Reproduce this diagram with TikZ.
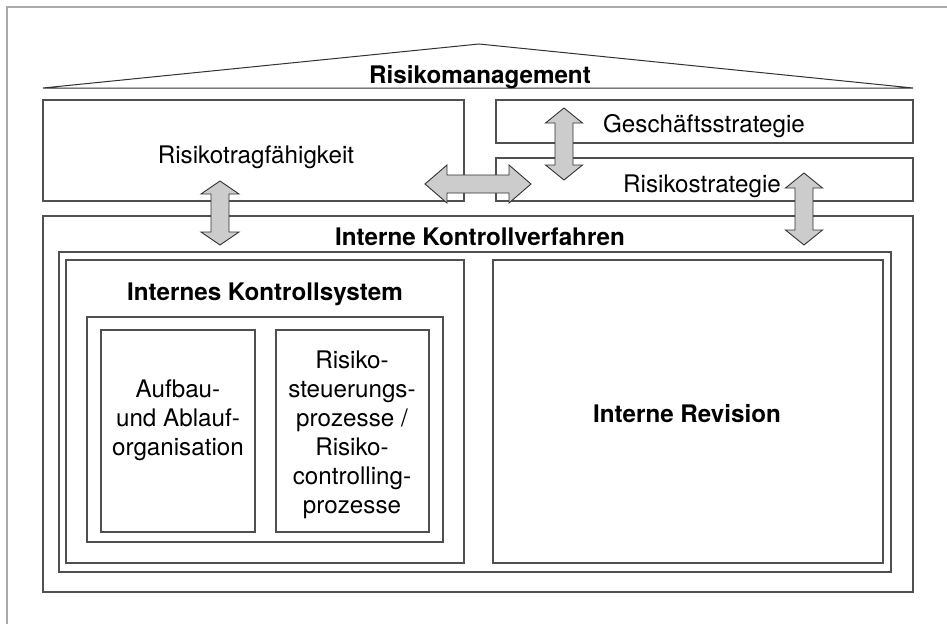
\documentclass[tikz,border=0pt]{standalone}
\usepackage{fontspec}
\setmainfont{TeX Gyre Heros}
\usetikzlibrary{calc,fit}

\definecolor{boxline}{RGB}{80,80,80}
\definecolor{frameline}{RGB}{170,170,170}
\definecolor{arrowline}{RGB}{50,50,50}
\definecolor{arrowfill}{RGB}{204,204,204}

% vertical double block arrow: #1 upper tip, #2 lower tip, #3 head length, #4 head half-width
\newcommand{\vdarrow}[4]{%
  \draw[blockarrow] let \p1=(#1), \p2=(#2) in
    (\x1,\y1) -- (\x1+#4,\y1-#3) -- (\x1+9pt,\y1-#3) -- (\x1+9pt,\y2+#3)
    -- (\x1+#4,\y2+#3) -- (\x2,\y2) -- (\x1-#4,\y2+#3) -- (\x1-9pt,\y2+#3)
    -- (\x1-9pt,\y1-#3) -- (\x1-#4,\y1-#3) -- cycle;}
% horizontal double block arrow: #1 left tip, #2 right tip, #3 head length, #4 head half-width
\newcommand{\hdarrow}[4]{%
  \draw[blockarrow] let \p1=(#1), \p2=(#2) in
    (\x1,\y1) -- (\x1+#3,\y1+#4) -- (\x1+#3,\y1+9pt) -- (\x2-#3,\y1+9pt)
    -- (\x2-#3,\y1+#4) -- (\x2,\y1) -- (\x2-#3,\y1-#4) -- (\x2-#3,\y1-9pt)
    -- (\x1+#3,\y1-9pt) -- (\x1+#3,\y1-#4) -- cycle;}

\begin{document}
\begin{tikzpicture}[x=1pt,y=-1pt,
  box/.style={draw=boxline, line width=1.1pt, inner sep=0pt, outer sep=0pt},
  lbl/.style={font=\fontsize{24.2}{29}\selectfont, inner sep=0pt, anchor=base, align=center},
  blbl/.style={font=\fontsize{24.2}{29}\selectfont\bfseries, inner sep=0pt, anchor=base, align=center},
  blockarrow/.style={draw=arrowline, fill=arrowfill, line width=0.9pt, line join=miter}]

\useasboundingbox[fill=white] (0,0) rectangle (947,624);

% page frame (top and left edges)
\draw[frameline, line width=1.2pt] (947,7) -- (7,7) -- (7,624);

% roof
\coordinate (roofL) at (43,88);
\coordinate (roofT) at (479,44);
\coordinate (roofR) at (913,88);
\draw[arrowline, line width=1pt, line join=miter] (roofL) -- (roofT) -- (roofR) -- cycle;
\node[blbl] (rm) at (480,83) {Risikomanagement};

% upper row
\node[box, fit={(43,100) (464,201)}] (rtf) {};
\node[box, fit={(496,100) (913,143)}] (gs) {};
\node[box, fit={(496,158) (913,201)}] (rs) {};
\node[lbl] (rtfT) at (256,163) {Risikotragfähigkeit};
\node[lbl] (gsT) at (704,132) {Geschäftsstrategie};
\node[lbl] (rsT) at (702,192) {Risikostrategie};

% internal control procedures
\node[box, fit={(43,216) (913,592)}] (ikv) {};
\node[blbl] (ikvT) at (480,245) {Interne Kontrollverfahren};
\node[box, fit={(59,252) (891,572)}] (ikvin) {};
\node[box, fit={(66,260) (464,563)}] (iks) {};
\node[blbl] (iksT) at (265,300) {Internes Kontrollsystem};
\node[box, fit={(87,317) (443,542)}] (iksin) {};
\node[box, fit={(101,330) (255,532)}] (aao) {};
\node[box, fit={(276,330) (429,532)}] (rsp) {};
% multi-line labels: base anchor sits on the last line
\node[lbl] (aaoT) at (178,455) {Aufbau-\\und Ablauf-\\organisation};
\node[lbl] (rspT) at (352,513) {Risiko-\\steuerungs-\\prozesse /\\Risiko-\\controlling-\\prozesse};
\node[box, fit={(493,260) (883,563)}] (ir) {};
\node[blbl] (irT) at (687,422) {Interne Revision};

% connecting block arrows
\coordinate (a1t) at (220,181);
\coordinate (a1b) at (220,245);
\coordinate (a2l) at (425,184);
\coordinate (a2r) at (531,184);
\coordinate (a3t) at (564,108);
\coordinate (a3b) at (564,180);
\coordinate (a4t) at (804,173);
\coordinate (a4b) at (804,245);
\vdarrow{a1t}{a1b}{13pt}{19pt}
\hdarrow{a2l}{a2r}{22pt}{19pt}
\vdarrow{a3t}{a3b}{15pt}{18.5pt}
\vdarrow{a4t}{a4b}{15pt}{18.5pt}
\end{tikzpicture}
\end{document}
